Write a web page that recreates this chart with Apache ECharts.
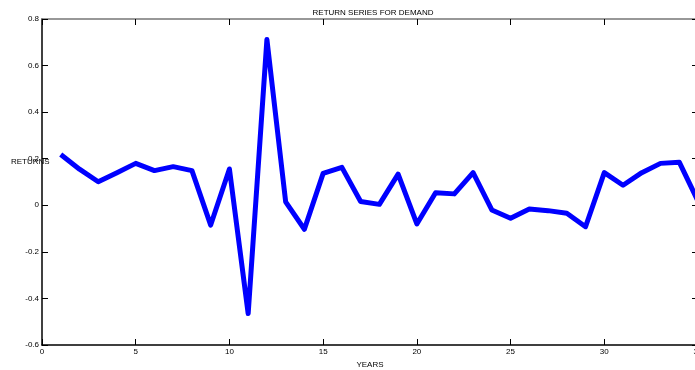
<!DOCTYPE html>
<html><head><meta charset="utf-8">
<script src="https://cdn.jsdelivr.net/npm/echarts@6/dist/echarts.min.js"></script>
<style>html,body{margin:0;padding:0;background:#fff}#c{width:695px;height:370px}</style>
</head><body><div id="c"></div>
<script>
const years = [1,2,3,4,5,6,7,8,9,10,11,12,13,14,15,16,17,18,19,20,21,22,23,24,25,26,27,28,29,30,31,32,33,34,35];
const returns = [0.218,0.155,0.101,0.14,0.18,0.149,0.166,0.149,-0.085,0.156,-0.465,0.712,0.015,-0.103,0.137,0.163,0.016,0.004,0.134,-0.08,0.054,0.049,0.14,-0.02,-0.056,-0.016,-0.023,-0.034,-0.092,0.14,0.086,0.14,0.18,0.185,0.018];
const titleText = 'RETURN SERIES FOR DEMAND';
const xName = 'YEARS';
const yName = 'RETURNS';

const font = 'Liberation Sans, Arial, sans-serif';
const chart = echarts.init(document.getElementById('c'));
function axisStyle(color) {
  return {
    axisLine: {show: true, onZero: false, lineStyle: {color: color, width: 1.5}},
    axisTick: {show: true, inside: true, length: 6, lineStyle: {color: '#000', width: 1}},
    splitLine: {show: false}
  };
}
chart.setOption({
  animation: false,
  title: {text: titleText, left: 368, top: 4, textAlign: 'center',
    textStyle: {fontSize: 8, fontWeight: 'normal', color: '#000', fontFamily: font}},
  grid: {left: 42, right: -3, top: 19, bottom: 25, containLabel: false, outerBoundsMode: 'none'},
  graphic: [{type: 'text', left: 11, top: 158, style: {text: yName, fontSize: 8, fill: '#000', font: '8px ' + font}}],
  xAxis: [
    Object.assign({type: 'value', min: 0, max: 35, interval: 5, position: 'bottom',
      name: xName, nameLocation: 'middle', nameGap: 14,
      nameTextStyle: {fontSize: 8, color: '#000', fontFamily: font},
      axisLabel: {fontSize: 8, color: '#000', fontFamily: font, margin: 3, hideOverlap: false}}, axisStyle('#000')),
    Object.assign({type: 'value', min: 0, max: 35, interval: 5, position: 'top',
      axisLabel: {show: false}}, axisStyle('#777'))
  ],
  yAxis: [
    Object.assign({type: 'value', min: -0.6, max: 0.8, interval: 0.2, position: 'left',
      axisLabel: {fontSize: 8, color: '#000', fontFamily: font, margin: 3,
        formatter: v => (Math.abs(v) < 1e-9 ? '0' : String(Math.round(v * 10) / 10))}}, axisStyle('#000')),
    Object.assign({type: 'value', min: -0.6, max: 0.8, interval: 0.2, position: 'right',
      axisLabel: {show: false}}, axisStyle('#777'))
  ],
  series: [{
    type: 'line', xAxisIndex: 0, yAxisIndex: 0,
    data: years.map((y, i) => [y, returns[i]]),
    showSymbol: false, symbol: 'none',
    lineStyle: {color: '#0000ff', width: 5, join: 'round'},
    clip: false
  }]
});
</script></body></html>
